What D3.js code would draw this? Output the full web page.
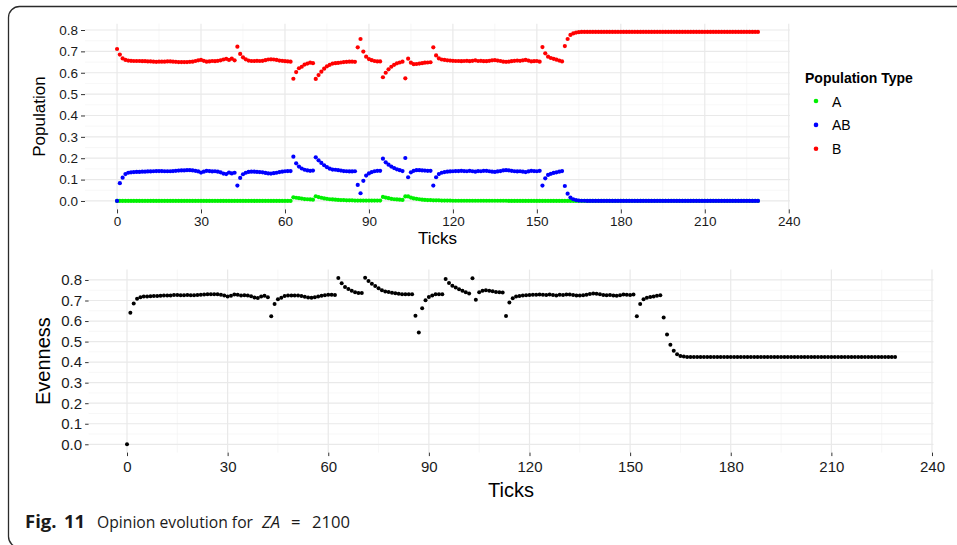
<!DOCTYPE html>
<html><head><meta charset="utf-8">
<script src="https://cdn.jsdelivr.net/npm/d3@7"></script>
<style>body{margin:0;background:#fff} svg{display:block}</style>
</head><body>
<svg id="c" width="957" height="545"></svg>
<script>
// ---- data (tick index 0..229) ----
const popB = [
0.711,0.685,0.667,0.660,0.657,0.656,0.655,0.655,0.655,0.654,
0.654,0.653,0.653,0.652,0.651,0.652,0.652,0.652,0.653,0.653,
0.652,0.651,0.650,0.650,0.650,0.650,0.651,0.652,0.655,0.658,
0.660,0.656,0.652,0.653,0.655,0.654,0.656,0.658,0.662,0.665,
0.660,0.666,0.658,0.722,0.688,0.672,0.663,0.657,0.655,0.655,
0.656,0.655,0.656,0.659,0.662,0.663,0.662,0.660,0.657,0.656,
0.654,0.653,0.652,0.572,0.603,0.621,0.628,0.638,0.643,0.647,
0.645,0.571,0.589,0.605,0.619,0.630,0.637,0.643,0.645,0.646,
0.648,0.650,0.651,0.652,0.652,0.651,0.719,0.758,0.699,0.675,
0.664,0.659,0.655,0.653,0.653,0.579,0.600,0.616,0.628,0.637,
0.644,0.648,0.652,0.574,0.666,0.647,0.640,0.641,0.643,0.645,
0.647,0.648,0.649,0.719,0.681,0.667,0.662,0.660,0.658,0.657,
0.656,0.655,0.655,0.654,0.655,0.656,0.654,0.656,0.658,0.655,
0.656,0.654,0.654,0.656,0.658,0.659,0.657,0.655,0.652,0.651,
0.652,0.654,0.656,0.657,0.656,0.658,0.660,0.657,0.653,0.654,
0.655,0.652,0.720,0.691,0.675,0.669,0.665,0.661,0.657,0.653,
0.725,0.758,0.777,0.784,0.788,0.790,0.791,0.791,0.791,0.791,
0.791,0.791,0.791,0.791,0.791,0.791,0.791,0.791,0.791,0.791,
0.791,0.791,0.791,0.791,0.791,0.791,0.791,0.791,0.791,0.791,
0.791,0.791,0.791,0.791,0.791,0.791,0.791,0.791,0.791,0.791,
0.791,0.791,0.791,0.791,0.791,0.791,0.791,0.791,0.791,0.791,
0.791,0.791,0.791,0.791,0.791,0.791,0.791,0.791,0.791,0.791,
0.791,0.791,0.791,0.791,0.791,0.791,0.791,0.791,0.791,0.791
];
const popAB = [
0.000,0.083,0.109,0.126,0.132,0.134,0.135,0.136,0.136,0.137,
0.137,0.138,0.138,0.139,0.140,0.140,0.140,0.139,0.139,0.139,
0.140,0.141,0.142,0.143,0.143,0.144,0.144,0.143,0.141,0.138,
0.133,0.137,0.141,0.140,0.138,0.139,0.137,0.134,0.128,0.126,
0.133,0.129,0.132,0.072,0.108,0.125,0.132,0.136,0.137,0.137,
0.136,0.135,0.134,0.131,0.129,0.128,0.130,0.132,0.135,0.137,
0.139,0.140,0.140,0.207,0.176,0.161,0.152,0.146,0.143,0.141,
0.142,0.204,0.190,0.178,0.167,0.158,0.151,0.147,0.146,0.144,
0.142,0.140,0.139,0.138,0.138,0.139,0.075,0.036,0.094,0.119,
0.129,0.135,0.139,0.141,0.141,0.198,0.181,0.170,0.161,0.154,
0.148,0.144,0.140,0.201,0.111,0.134,0.141,0.144,0.144,0.143,
0.142,0.141,0.141,0.072,0.111,0.126,0.132,0.135,0.137,0.138,
0.139,0.140,0.140,0.141,0.140,0.139,0.141,0.139,0.137,0.140,
0.139,0.141,0.141,0.139,0.137,0.136,0.138,0.140,0.143,0.144,
0.143,0.141,0.139,0.138,0.139,0.137,0.135,0.138,0.141,0.140,
0.139,0.141,0.072,0.106,0.122,0.127,0.131,0.134,0.137,0.140,
0.070,0.034,0.016,0.008,0.004,0.002,0.001,0.001,0.000,0.000,
0,0,0,0,0,0,0,0,0,0,
0,0,0,0,0,0,0,0,0,0,
0,0,0,0,0,0,0,0,0,0,
0,0,0,0,0,0,0,0,0,0,
0,0,0,0,0,0,0,0,0,0,
0,0,0,0,0,0,0,0,0,0
];
const popA = [
0,0,0,0,0,0,0,0,0,0,
0,0,0,0,0,0,0,0,0,0,
0,0,0,0,0,0,0,0,0,0,
0,0,0,0,0,0,0,0,0,0,
0,0,0,0,0,0,0,0,0,0,
0,0,0,0,0,0,0,0,0,0,
0,0,0,0.017,0.015,0.013,0.011,0.009,0.008,0.007,
0.006,0.022,0.018,0.015,0.012,0.010,0.008,0.007,0.006,0.005,
0.004,0.004,0.003,0.003,0.003,0.002,0.002,0.002,0.002,0.002,
0.002,0.002,0.002,0.002,0.002,0.019,0.016,0.013,0.010,0.008,
0.007,0.006,0.005,0.021,0.021,0.016,0.012,0.010,0.008,0.006,
0.005,0.004,0.004,0.003,0.003,0.003,0.002,0.002,0.002,0.002,
0.001,0.001,0.001,0.001,0.001,0.001,0.001,0.001,0.001,0.001,
0.001,0.001,0.001,0.001,0.001,0.001,0.001,0.001,0.001,0.001,
0,0,0,0,0,0,0,0,0,0,
0,0,0,0,0,0,0,0,0,0,
0,0,0,0,0,0,0,0,0,0,
0,0,0,0,0,0,0,0,0,0,
0,0,0,0,0,0,0,0,0,0,
0,0,0,0,0,0,0,0,0,0,
0,0,0,0,0,0,0,0,0,0,
0,0,0,0,0,0,0,0,0,0,
0,0,0,0,0,0,0,0,0,0
];
const evenness = [
0.000,0.641,0.686,0.709,0.716,0.719,0.720,0.721,0.722,0.722,
0.723,0.724,0.724,0.725,0.727,0.727,0.726,0.726,0.727,0.726,
0.726,0.727,0.728,0.729,0.730,0.731,0.731,0.730,0.728,0.725,
0.719,0.723,0.729,0.728,0.725,0.726,0.724,0.721,0.715,0.712,
0.719,0.723,0.716,0.623,0.683,0.706,0.714,0.722,0.725,0.725,
0.724,0.724,0.722,0.718,0.715,0.714,0.716,0.719,0.723,0.726,
0.728,0.728,0.727,0.810,0.784,0.766,0.756,0.747,0.740,0.736,
0.736,0.811,0.795,0.782,0.771,0.760,0.750,0.744,0.741,0.738,
0.735,0.733,0.731,0.730,0.730,0.731,0.626,0.544,0.662,0.701,
0.717,0.725,0.730,0.731,0.730,0.805,0.785,0.772,0.763,0.755,
0.747,0.740,0.734,0.808,0.704,0.740,0.748,0.750,0.748,0.745,
0.742,0.740,0.739,0.625,0.690,0.711,0.719,0.722,0.725,0.726,
0.727,0.728,0.728,0.729,0.728,0.727,0.729,0.727,0.725,0.728,
0.727,0.729,0.729,0.727,0.725,0.724,0.726,0.728,0.732,0.734,
0.733,0.730,0.727,0.726,0.727,0.725,0.723,0.726,0.729,0.728,
0.727,0.729,0.623,0.683,0.706,0.714,0.717,0.720,0.723,0.726,
0.617,0.534,0.484,0.456,0.438,0.430,0.427,0.425,0.425,0.425,
0.425,0.425,0.425,0.425,0.425,0.425,0.425,0.425,0.425,0.425,
0.425,0.425,0.425,0.425,0.425,0.425,0.425,0.425,0.425,0.425,
0.425,0.425,0.425,0.425,0.425,0.425,0.425,0.425,0.425,0.425,
0.425,0.425,0.425,0.425,0.425,0.425,0.425,0.425,0.425,0.425,
0.425,0.425,0.425,0.425,0.425,0.425,0.425,0.425,0.425,0.425,
0.425,0.425,0.425,0.425,0.425,0.425,0.425,0.425,0.425,0.425
];
const xTickValues = [0, 30, 60, 90, 120, 150, 180, 210, 240];
const xMinorValues = [15, 45, 75, 105, 135, 165, 195, 225];
const yTickValues = [0, 0.1, 0.2, 0.3, 0.4, 0.5, 0.6, 0.7, 0.8];
const yMinorValues = [0.05, 0.15, 0.25, 0.35, 0.45, 0.55, 0.65, 0.75];
const seriesNames = ["A", "AB", "B"];
const seriesColors = ["#00f000", "#0000ff", "#ff0000"];
const legendTitle = "Population Type";

const svg = d3.select("#c");
const FONT = "'Liberation Sans', Arial, Helvetica, sans-serif";

// frame
svg.append("rect").attr("x", 8.5).attr("y", 6.5).attr("width", 990).attr("height", 541)
  .attr("rx", 11).attr("fill", "none").attr("stroke", "#2b2b2b").attr("stroke-width", 1.3);

function panel(cfg) {
  const x = d3.scaleLinear().domain([-11.45, 240.45]).range([cfg.left, cfg.right]);
  const y = d3.scaleLinear().domain(cfg.yDomain).range([cfg.bottom, cfg.top]);
  const g = svg.append("g");
  g.selectAll(".gxm").data(xMinorValues).join("line")
    .attr("x1", d => x(d)).attr("x2", d => x(d)).attr("y1", cfg.top).attr("y2", cfg.bottom)
    .attr("stroke", "#f3f3f3").attr("stroke-width", 0.7);
  g.selectAll(".gym").data(yMinorValues).join("line")
    .attr("x1", cfg.left).attr("x2", cfg.right).attr("y1", d => y(d)).attr("y2", d => y(d))
    .attr("stroke", "#f3f3f3").attr("stroke-width", 0.7);
  g.selectAll(".gx").data(xTickValues).join("line")
    .attr("x1", d => x(d)).attr("x2", d => x(d)).attr("y1", cfg.top).attr("y2", cfg.bottom)
    .attr("stroke", "#e9e9e9").attr("stroke-width", 1.2);
  g.selectAll(".gy").data(yTickValues).join("line")
    .attr("x1", cfg.left).attr("x2", cfg.right).attr("y1", d => y(d)).attr("y2", d => y(d))
    .attr("stroke", "#e9e9e9").attr("stroke-width", 1.2);

  const ax = g.append("g").attr("transform", `translate(0,${cfg.bottom})`)
    .call(d3.axisBottom(x).tickValues(xTickValues).tickFormat(d3.format("d"))
      .tickSize(cfg.tick).tickPadding(cfg.xPad).tickSizeOuter(0));
  const ay = g.append("g").attr("transform", `translate(${cfg.left},0)`)
    .call(d3.axisLeft(y).tickValues(yTickValues).tickFormat(d3.format(".1f"))
      .tickSize(cfg.tick).tickPadding(cfg.yPad).tickSizeOuter(0));
  [ax, ay].forEach(a => {
    a.select(".domain").remove();
    a.selectAll("line").attr("stroke", "#333").attr("stroke-width", 1);
    a.selectAll("text").attr("fill", "#1a1a1a").style("font-family", FONT).style("font-size", cfg.tickFont + "px");
  });

  g.append("text").attr("x", (cfg.left + cfg.right) / 2).attr("y", cfg.xTitleY)
    .attr("text-anchor", "middle").style("font-family", FONT).style("font-size", cfg.titleFont + "px")
    .attr("fill", "#000").text("Ticks");
  g.append("text").attr("transform", `translate(${cfg.yTitleX},${(cfg.top + cfg.bottom) / 2}) rotate(-90)`)
    .attr("text-anchor", "middle").style("font-family", FONT).style("font-size", cfg.titleFont + "px")
    .attr("fill", "#000").text(cfg.yTitle);
  return {x, y, g};
}

// ---- top panel ----
const topPanel = panel({left: 85, right: 790, top: 23.7, bottom: 209.4, yDomain: [-0.0395, 0.8295],
  tick: 4, xPad: 3.5, yPad: 3, tickFont: 13.5, titleFont: 17, xTitleY: 243.5, yTitle: "Population", yTitleX: 45});
const topSeries = [popA, popAB, popB];
topSeries.forEach((vals, si) => {
  topPanel.g.append("g").selectAll("circle").data(vals).join("circle")
    .attr("cx", (d, i) => topPanel.x(i)).attr("cy", d => topPanel.y(d)).attr("r", 2.1)
    .attr("fill", seriesColors[si]);
});

// legend
const lg = svg.append("g");
lg.append("text").attr("x", 805).attr("y", 83).style("font-family", FONT).style("font-size", "14px")
  .style("font-weight", "bold").attr("fill", "#000").text(legendTitle);
seriesNames.forEach((n, i) => {
  lg.append("circle").attr("cx", 816).attr("cy", 101 + i * 23.9).attr("r", 2.3).attr("fill", seriesColors[i]);
  lg.append("text").attr("x", 832).attr("y", 106.5 + i * 23.9).style("font-family", FONT).style("font-size", "14px")
    .attr("fill", "#000").text(n);
});

// ---- bottom panel ----
const botPanel = panel({left: 88.6, right: 933.5, top: 269.6, bottom: 452.6, yDomain: [-0.0405, 0.8505],
  tick: 3.5, xPad: 5, yPad: 3, tickFont: 15, titleFont: 20, xTitleY: 497, yTitleX: 49.5, yTitle: "Evenness"});
botPanel.g.append("g").selectAll("circle").data(evenness).join("circle")
  .attr("cx", (d, i) => botPanel.x(i)).attr("cy", d => botPanel.y(d)).attr("r", 2)
  .attr("fill", "#000");

// caption
const cap = svg.append("text").attr("y", 528).style("font-family", "'Open Sans', 'Noto Sans', sans-serif")
  .style("font-size", "15.8px").attr("fill", "#1a1a1a");
cap.append("tspan").attr("x", 25).style("font-weight", "bold").style("font-size", "18.5px").text("Fig.");
cap.append("tspan").attr("x", 64).style("font-weight", "bold").style("font-size", "18.5px").text("11");
cap.append("tspan").attr("x", 97).style("font-size", "16.6px").attr("textLength", 156).attr("lengthAdjust", "spacingAndGlyphs").text("Opinion evolution for");
cap.append("tspan").attr("x", 262).style("font-style", "italic").style("font-size", "16.6px").text("ZA");
cap.append("tspan").attr("x", 291).style("font-size", "16.6px").text("=");
cap.append("tspan").attr("x", 312).style("font-size", "16.6px").text("2100");
</script>
</body></html>
